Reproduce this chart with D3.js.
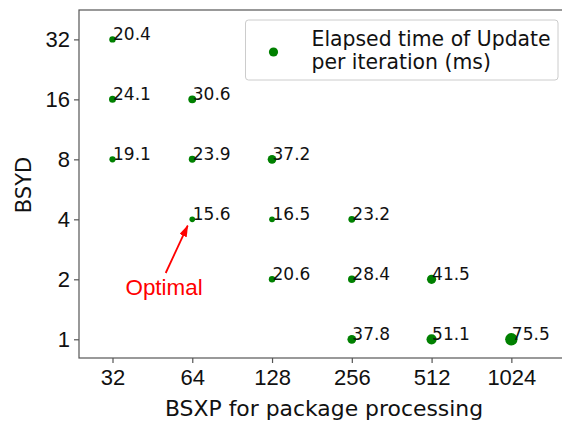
<!DOCTYPE html>
<html><head><meta charset="utf-8">
<script src="https://cdn.jsdelivr.net/npm/d3@7"></script>
<style>body{margin:0;background:#fff;} svg{display:block;font-family:"DejaVu Sans",sans-serif;}</style>
</head><body>
<script>
const bsxp = [32, 32, 32, 64, 64, 64, 128, 128, 128, 256, 256, 256, 512, 512, 1024];
const bsyd = [32, 16, 8, 16, 8, 4, 8, 4, 2, 4, 2, 1, 2, 1, 1];
const elapsed = [20.4, 24.1, 19.1, 30.6, 23.9, 15.6, 37.2, 16.5, 20.6, 23.2, 28.4, 37.8, 41.5, 51.1, 75.5];
const xTicks = [32, 64, 128, 256, 512, 1024];
const yTicks = [1, 2, 4, 8, 16, 32];

const W = 562, H = 425;
const L = 79, T = 10, R = 564, B = 358;
const svg = d3.select("body").append("svg").attr("width", W).attr("height", H);

const x = d3.scaleLog().base(2).domain([Math.pow(2, 4.58), Math.pow(2, 10.66)]).range([L, R]);
const y = d3.scaleLog().base(2).domain([Math.pow(2, -0.312), Math.pow(2, 5.49)]).range([B, T]);
const r = d3.scaleSqrt().domain([0, 75.5]).range([0, 6.2]);

// frame
svg.append("rect").attr("x", L).attr("y", T).attr("width", R - L).attr("height", B - T)
  .attr("fill", "none").attr("stroke", "#555").attr("stroke-width", 1.2);

const xa = svg.append("g").attr("transform", `translate(0,${B})`)
  .call(d3.axisBottom(x).tickValues(xTicks).tickFormat(d3.format("d")).tickSize(5).tickPadding(6));
const ya = svg.append("g").attr("transform", `translate(${L},0)`)
  .call(d3.axisLeft(y).tickValues(yTicks).tickFormat(d3.format("d")).tickSize(5).tickPadding(4));
[xa, ya].forEach(a => {
  a.select(".domain").remove();
  a.selectAll("line").attr("stroke", "#555").attr("stroke-width", 1.2);
  a.selectAll("text").attr("font-size", 22).attr("fill", "#111").attr("font-family", "Liberation Sans, Arial, sans-serif");
});
xa.selectAll("text").attr("dy", "0.71em");

// axis titles
svg.append("text").attr("x", 324).attr("y", 416).attr("text-anchor", "middle")
  .attr("font-size", 21.9).attr("fill", "#111").text("BSXP for package processing");
svg.append("text").attr("transform", `translate(31,185) rotate(-90)`).attr("text-anchor", "middle")
  .attr("font-size", 21).attr("fill", "#111").text("BSYD");

// points
const data = bsxp.map((d, i) => ({ x: d, y: bsyd[i], v: elapsed[i] }));
svg.append("g").selectAll("circle").data(data).join("circle")
  .attr("cx", d => x(d.x)).attr("cy", d => y(d.y)).attr("r", d => r(d.v)).attr("fill", "green");
svg.append("g").selectAll("text").data(data).join("text")
  .attr("x", d => x(d.x) + 0.5).attr("y", d => y(d.y) + 0.5)
  .attr("font-size", 17).attr("fill", "#111").text(d => d.v.toFixed(1));

// legend
const lg = svg.append("g");
lg.append("rect").attr("x", 245.5).attr("y", 20).attr("width", 312.5).attr("height", 60).attr("rx", 3)
  .attr("fill", "#fff").attr("stroke", "#ccc").attr("stroke-width", 1);
lg.append("circle").attr("cx", 273.5).attr("cy", 52).attr("r", 4.6).attr("fill", "green");
lg.append("text").attr("x", 311.5).attr("y", 45.5).attr("font-size", 20.4).attr("fill", "#111").text("Elapsed time of Update");
lg.append("text").attr("x", 311.5).attr("y", 68.5).attr("font-size", 20.4).attr("fill", "#111").text("per iteration (ms)");

// annotation
const defs = svg.append("defs");
defs.append("marker").attr("id", "ah").attr("viewBox", "0 0 12 8").attr("refX", 11).attr("refY", 4)
  .attr("markerWidth", 12).attr("markerHeight", 8).attr("markerUnits", "userSpaceOnUse").attr("orient", "auto")
  .append("path").attr("d", "M0,0 L12,4 L0,8 z").attr("fill", "red");
svg.append("line").attr("x1", 165.7).attr("y1", 273).attr("x2", 187.7).attr("y2", 225.7)
  .attr("stroke", "red").attr("stroke-width", 1.8).attr("marker-end", "url(#ah)");
svg.append("text").attr("x", 125.5).attr("y", 295).attr("font-size", 22.4)
  .attr("font-family", "Liberation Sans, Arial, sans-serif").attr("fill", "red").text("Optimal");
</script>
</body></html>
